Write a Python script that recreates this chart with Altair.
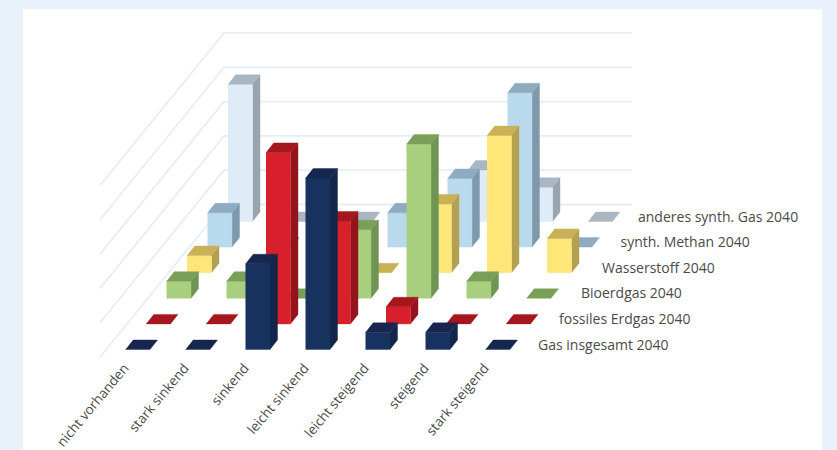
import altair as alt
import pandas as pd

# Categories and answer shares (percent) for each gas type
categories = ["nicht vorhanden", "stark sinkend", "sinkend", "leicht sinkend",
              "leicht steigend", "steigend", "stark steigend"]
series_names = ["Gas insgesamt 2040", "fossiles Erdgas 2040", "Bioerdgas 2040",
                "Wasserstoff 2040", "synth. Methan 2040", "anderes synth. Gas 2040"]
gas_total = [0, 0, 25, 50, 5, 5, 0]
fossil_gas = [0, 0, 50, 30, 5, 0, 0]
bio_gas = [5, 5, 0, 20, 45, 5, 0]
hydrogen = [5, 0, 0, 0, 20, 40, 10]
synth_methane = [10, 0, 0, 10, 20, 45, 0]
other_synth = [40, 0, 0, 0, 15, 10, 0]
grid_levels = [0, 10, 20, 30, 40, 50]

series_values = [gas_total, fossil_gas, bio_gas, hydrogen, synth_methane, other_synth]
# (front, side, top) shading per series
shades = [("#17325f", "#12264a", "#16264f"),
          ("#d8202c", "#93141c", "#a6161e"),
          ("#a9ce7d", "#6f9455", "#7a9f58"),
          ("#ffe678", "#b3a050", "#c9b155"),
          ("#b9d9ec", "#7d99ab", "#8eabc0"),
          ("#dfebf6", "#98a5ae", "#aab6c2")]

W, H = 837, 450
# Oblique projection of (category, series, value) onto the drawing plane
ORIGIN_X, ORIGIN_Y = 125.5, 349.5
COL_STEP, ROW_DX, ROW_DY = 60.0, 20.5, 25.6
UNIT = 3.43
BAR_W, DEPTH_X, DEPTH_Y = 24.5, 7.5, 9.5
# Left edge of each depth-axis label, front row to back row
DEPTH_LABEL_X = (538.0, 559.0, 581.0, 602.0, 620.5, 638.0)


def project(col, row, value=0.0):
    return (ORIGIN_X + COL_STEP * col + ROW_DX * row,
            ORIGIN_Y - ROW_DY * row - UNIT * value)


# Painter's order: rear series first, each face one polygon
faces = []
fid = 0


def add_face(points, color):
    global fid
    for i, (px, py) in enumerate(points):
        faces.append({"face": fid, "i": i, "px": px, "py": py, "c": color})
    fid += 1


for row in range(len(series_values) - 1, -1, -1):
    front, side, top = shades[row]
    for col, val in enumerate(series_values[row]):
        x0, y0 = project(col, row)
        _, yt = project(col, row, val)
        x1 = x0 + BAR_W
        if val > 0:
            add_face([(x1, y0), (x1 + DEPTH_X, y0 - DEPTH_Y),
                      (x1 + DEPTH_X, yt - DEPTH_Y), (x1, yt)], side)
            add_face([(x0, y0), (x1, y0), (x1, yt), (x0, yt)], front)
        add_face([(x0, yt), (x1, yt), (x1 + DEPTH_X, yt - DEPTH_Y),
                  (x0 + DEPTH_X, yt - DEPTH_Y)], top)

# Walls: grid lines run along the left wall and then along the back wall
wall = []
for k, level in enumerate(grid_levels):
    wall.append({"g": k, "i": 0, "px": 100.0, "py": 357.0 - UNIT * level})
    wall.append({"g": k, "i": 1, "px": 224.0, "py": 204.5 - UNIT * level})
    wall.append({"g": k, "i": 2, "px": 632.0, "py": 204.5 - UNIT * level})

cat_labels = [{"t": c, "px": ORIGIN_X + COL_STEP * i + 1.0, "py": 366.0}
              for i, c in enumerate(categories)]
ser_labels = []
for r, name in enumerate(series_names):
    ser_labels.append({"t": name, "px": DEPTH_LABEL_X[r], "py": 345.5 - ROW_DY * r})

x_enc = alt.X("px:Q", scale=alt.Scale(domain=[0, W], range=[0, W], nice=False, zero=False), axis=None)
y_enc = alt.Y("py:Q", scale=alt.Scale(domain=[H, 0], range=[H, 0], nice=False, zero=False), axis=None)

panel = alt.Chart(pd.DataFrame({"a": [0]})).mark_rect(color="#ffffff").encode(
    x=alt.value(23), x2=alt.value(822), y=alt.value(9), y2=alt.value(H))

grid = alt.Chart(pd.DataFrame(wall)).mark_line(color="#e6eef8", strokeWidth=1.8).encode(
    x=x_enc, y=y_enc, detail="g:N", order="i:Q")

bars = alt.Chart(pd.DataFrame(faces)).mark_line(strokeWidth=0.4).encode(
    x=x_enc, y=y_enc, detail="face:N", order="i:Q",
    fill=alt.Fill("c:N", scale=None), stroke=alt.Stroke("c:N", scale=None))

font = "Open Sans"
cat_text = alt.Chart(pd.DataFrame(cat_labels)).mark_text(
    align="right", baseline="middle", angle=310, font=font, fontSize=13.5, color="#4a4a4a").encode(
    x=x_enc, y=y_enc, text="t:N")
ser_text = alt.Chart(pd.DataFrame(ser_labels)).mark_text(
    align="left", baseline="middle", font=font, fontSize=14, color="#4a4a4a").encode(
    x=x_enc, y=y_enc, text="t:N")

chart = alt.layer(panel, grid, bars, cat_text, ser_text).properties(
    width=W, height=H, padding=0, background="#e9f2fb",
    autosize=alt.AutoSizeParams(type="none")
).configure_view(stroke=None)

chart.save("out.html", embed_options={"renderer": "svg", "actions": False})
